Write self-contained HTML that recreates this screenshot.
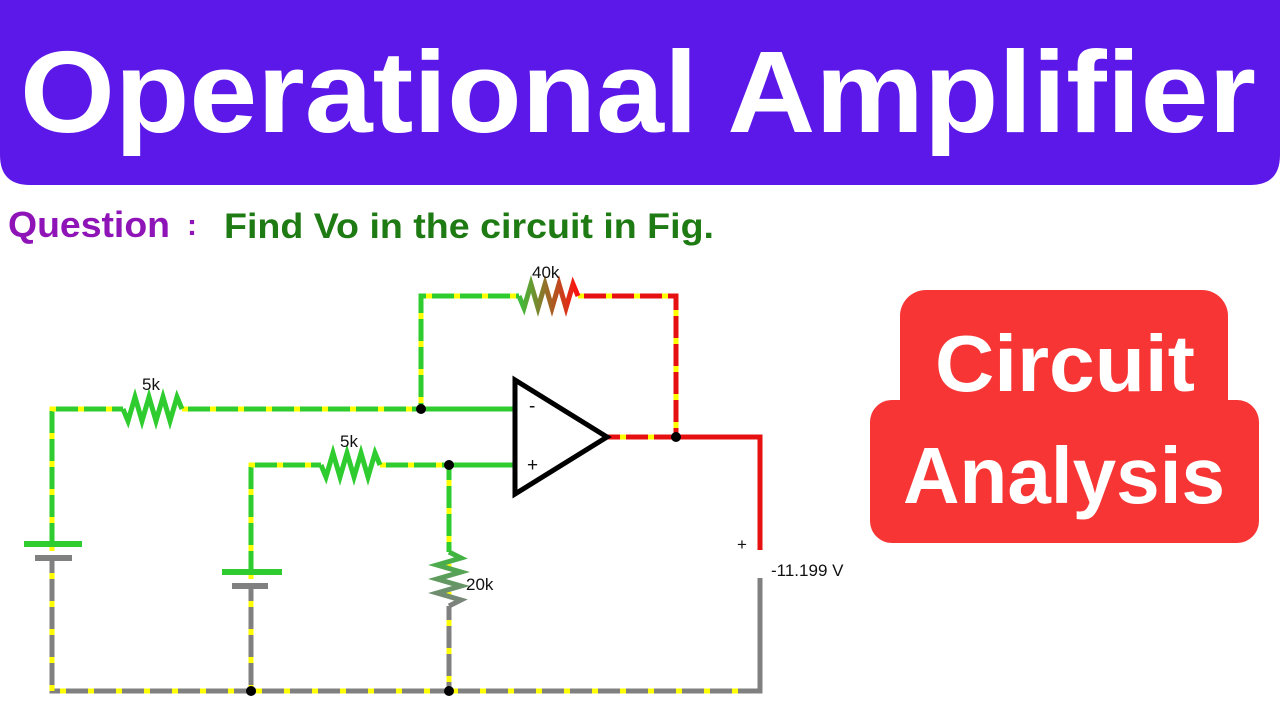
<!DOCTYPE html>
<html><head><meta charset="utf-8"><style>
html,body{margin:0;padding:0;background:#fff;width:1280px;height:720px;overflow:hidden}
svg{display:block}
</style></head><body>
<svg width="1280" height="720" viewBox="0 0 1280 720" xmlns="http://www.w3.org/2000/svg">
<path d="M0 0H1280V155Q1280 185 1250 185H30Q0 185 0 155Z" fill="#5b18e8"/>
<text x="20" y="132" font-family="Liberation Sans, sans-serif" font-weight="bold" font-size="116" fill="#fff" textLength="1236" lengthAdjust="spacingAndGlyphs">Operational Amplifier</text>
<text x="8" y="237" font-family="Comic Sans MS, Liberation Sans, sans-serif" font-weight="bold" font-size="36" fill="#8e14b8" textLength="162" lengthAdjust="spacingAndGlyphs">Question</text>
<text x="187" y="235" font-family="Liberation Sans, sans-serif" font-weight="bold" font-size="30" fill="#8e14b8">:</text>
<text x="224" y="238" font-family="Comic Sans MS, Liberation Sans, sans-serif" font-weight="bold" font-size="35" fill="#1e7a12" textLength="490" lengthAdjust="spacingAndGlyphs">Find Vo in the circuit in Fig.</text>
<!-- red badge -->
<rect x="900" y="290" width="328" height="160" rx="26" fill="#f73535"/>
<rect x="870" y="400" width="389" height="143" rx="22" fill="#f73535"/>
<text x="935" y="391" font-family="Liberation Sans, sans-serif" font-weight="bold" font-size="80" fill="#fff" textLength="260" lengthAdjust="spacingAndGlyphs">Circuit</text>
<text x="903" y="503" font-family="Liberation Sans, sans-serif" font-weight="bold" font-size="80" fill="#fff" textLength="322" lengthAdjust="spacingAndGlyphs">Analysis</text>
<g fill="none" stroke-width="5" stroke-linecap="butt">
<g stroke="#2ecc2e">
<path d="M52 544V409H123M182 409H515"/>
<path d="M421 409V296H519"/>
<path d="M251 572V465H321M380 465H515"/>
<path d="M449 465V552"/>
</g>
<g stroke="#e61010">
<path d="M578 296H676V437"/>
<path d="M607 437H760V550"/>
</g>
<g stroke="#808080">
<path d="M52 558V691H760V578"/>
<path d="M251 586V691"/>
<path d="M449 606V691"/>
</g>
<g stroke="#ffff00" stroke-dasharray="6 22">
<path d="M52 691V409H123M182 409H415"/>
<path d="M421 403V296H519"/>
<path d="M251 691V465H321M380 465H449V691"/>
<path d="M578 296H676V430M620 437H670"/>
<path d="M60 691H760"/>
</g>
<path d="M123 409l5 12l7-24l7 24l7-24l7 24l7-24l7 24l7-24l5 12" stroke="#2ecc2e"/>
<path d="M321 465l5 12l7-24l7 24l7-24l7 24l7-24l7 24l7-24l5 12" stroke="#2ecc2e"/>
<defs><linearGradient id="g40" x1="0" x2="1"><stop offset="0" stop-color="#3cbf3c"/><stop offset="1" stop-color="#ff1010"/></linearGradient>
<linearGradient id="g20" x1="0" y1="0" x2="0" y2="1"><stop offset="0" stop-color="#3cb83c"/><stop offset="1" stop-color="#808080"/></linearGradient></defs>
<path d="M519 296l5 12l7-24l7 24l7-24l7 24l7-24l7 24l7-24l5 12" stroke="url(#g40)"/>
<path d="M449 552l12 6l-24 7l24 7l-24 7l24 7l-24 7l24 7l-12 6" stroke="url(#g20)"/>
<path d="M24 544H82M222 572H282" stroke="#2ecc2e" stroke-width="6"/>
<path d="M35 558H72M232 586H268" stroke="#808080" stroke-width="6"/>
<path d="M515 380V494L607 437Z" stroke="#000" stroke-width="5" stroke-linejoin="miter"/>
</g>
<g fill="#000">
<circle cx="421" cy="409" r="5"/><circle cx="449" cy="465" r="5"/><circle cx="676" cy="437" r="5"/>
<circle cx="251" cy="691" r="5"/><circle cx="449" cy="691" r="5"/>
</g>
<g font-family="Liberation Sans, sans-serif" font-size="17" fill="#111">
<text x="142" y="390">5k</text>
<text x="340" y="447">5k</text>
<text x="532" y="278">40k</text>
<text x="466" y="590">20k</text>
<text x="529" y="412" font-size="19">-</text>
<text x="527" y="471" font-size="19">+</text>
<text x="737" y="550">+</text>
<text x="771" y="576">-11.199 V</text>
</g>
</svg>
</body></html>
